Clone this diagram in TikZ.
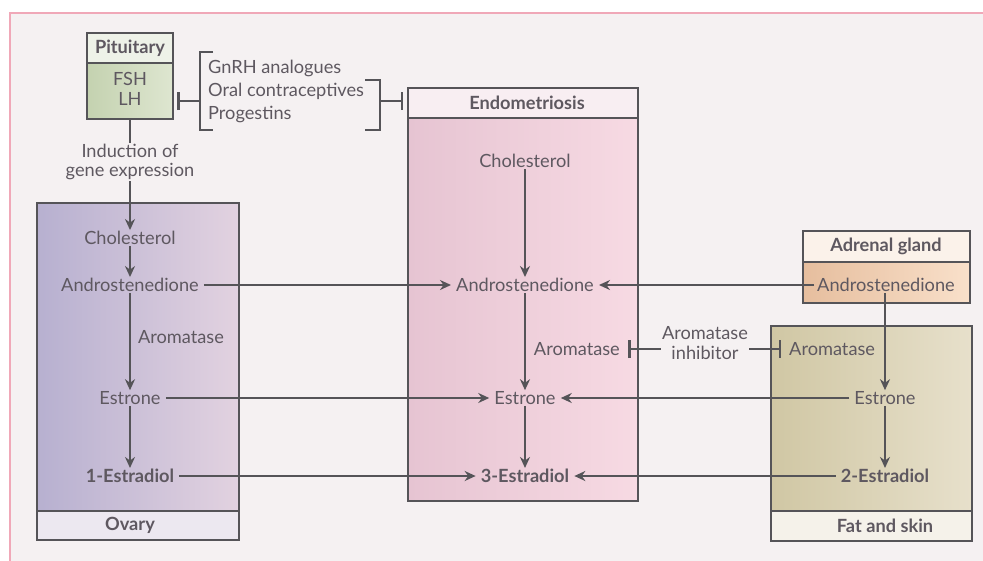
\documentclass[tikz,border=0pt]{standalone}
\usepackage{fontspec}
\setmainfont{Lato}
\usetikzlibrary{arrows.meta}
\definecolor{txt}{HTML}{5E5860}
\definecolor{ln}{HTML}{555458}
\definecolor{bg}{HTML}{F5F1F2}
\definecolor{frame}{HTML}{F0A8B8}
\definecolor{pitT}{HTML}{EEF2E8}
\definecolor{pitL}{HTML}{C4D2B0}
\definecolor{pitR}{HTML}{DEE6D0}
\definecolor{endT}{HTML}{F8EEF2}
\definecolor{endL}{HTML}{E6C4D2}
\definecolor{endR}{HTML}{F7DAE3}
\definecolor{ovL}{HTML}{B7B0D0}
\definecolor{ovR}{HTML}{E2D2E0}
\definecolor{ovT}{HTML}{ECE8F0}
\definecolor{adT}{HTML}{FBF2EA}
\definecolor{adL}{HTML}{E6BE9E}
\definecolor{adR}{HTML}{F9E0CA}
\definecolor{faL}{HTML}{D0C7A4}
\definecolor{faR}{HTML}{E7E0CB}
\definecolor{faT}{HTML}{F5F2EA}
\tikzset{
  lab/.style={text=txt, font=\fontsize{18.2}{20}\selectfont, inner sep=1pt},
  blab/.style={lab, font=\fontsize{18.2}{20}\selectfont\bfseries},
  ttl/.style={text=txt, font=\fontsize{18.2}{20}\selectfont\bfseries},
  box/.style={draw=ln, line width=2.2pt},
  conn/.style={draw=ln, line width=2.5pt},
  arr/.style={conn, -{Stealth[length=11pt,width=10pt]}},
  inh/.style={conn, -{Bar[width=18pt]}}
}
\begin{document}
\begin{tikzpicture}[x=1pt,y=-1pt]
\useasboundingbox (0,0) rectangle (983,560);
\fill[white] (0,0) rectangle (983,560);
\fill[bg] (10,13) rectangle (990,570);
\draw[frame, line width=1.5pt] (990,13) -- (10,13) -- (10,570);

% Pituitary
\draw[box, fill=pitT] (87,33) rectangle (173,63);
\shade[left color=pitL, right color=pitR] (87,63) rectangle (173,119);
\draw[box] (87,33) rectangle (173,119);
\draw[box] (87,63) -- (173,63);
\node[ttl] (pit) at (130,48) {Pituitary};
\node[lab, align=center, font=\fontsize{18.2}{20}\selectfont] (fsh) at (130,89) {FSH\\LH};
\coordinate (pitbot) at (130,119);
\coordinate (pitr) at (173,101);

% Endometriosis
\draw[box, fill=endT] (408,88) rectangle (638,118);
\shade[left color=endL, right color=endR] (408,118) rectangle (638,501);
\draw[box] (408,88) rectangle (638,501);
\draw[box] (408,118) -- (638,118);
\node[ttl] (endo) at (527,103) {Endometriosis};

% Ovary
\shade[left color=ovL, right color=ovR] (37,203) rectangle (239,511);
\fill[ovT] (37,511) rectangle (239,540);
\draw[box] (37,203) rectangle (239,540);
\draw[box] (37,511) -- (239,511);
\node[ttl] (ovary) at (130,525) {Ovary};

% Adrenal
\draw[box, fill=adT] (803,231) rectangle (970,262);
\shade[left color=adL, right color=adR] (803,262) rectangle (970,303);
\draw[box] (803,231) rectangle (970,303);
\draw[box] (803,262) -- (970,262);
\node[ttl] (adr) at (886,246) {Adrenal gland};

% Fat and skin
\shade[left color=faL, right color=faR] (771,326) rectangle (972,511);
\fill[faT] (771,511) rectangle (972,541);
\draw[box] (771,326) rectangle (972,541);
\draw[box] (771,511) -- (972,511);
\node[ttl] (fat) at (885,526) {Fat and skin};

% Bracketed drugs
\node[lab, align=left, anchor=west, font=\fontsize{18.2}{23}\selectfont] (drugs) at (207,91) {GnRH analogues\\Oral contraceptives\\Progestins};
\draw[conn] (213,52) -- (200,52) -- (200,130) -- (213,130);
\draw[conn] (365,80) -- (380,80) -- (380,130) -- (365,130);
\coordinate (brL) at (200,101);
\coordinate (brR) at (380,101);
\coordinate (endoL) at (408,101);
\draw[inh] (brL) -- ([xshift=4pt]pitr);
\draw[inh] (brR) -- ([xshift=-5pt]endoL);

% Induction
\node[lab, align=center, font=\fontsize{18.2}{19.5}\selectfont] (ind) at (130,162) {Induction of\\gene expression};
\draw[conn] (pitbot) -- (ind.north);

% Ovary pathway
\node[lab] (oc) at (130,238) {Cholesterol};
\node[lab] (oa) at (130,285) {Androstenedione};
\node[lab] (oarom) at (181,337) {Aromatase};
\node[lab] (oe) at (130,398) {Estrone};
\node[blab] (oed) at (130,476) {1-Estradiol};
\draw[arr] (ind.south) -- (oc.north);
\draw[arr] (oc) -- (oa);
\draw[arr] (oa) -- (oe);
\draw[arr] (oe) -- (oed);

% Endometriosis pathway
\node[lab] (ec) at (525,161) {Cholesterol};
\node[lab] (ea) at (525,285) {Androstenedione};
\node[lab, anchor=east] (earom) at (621,349) {Aromatase};
\node[lab] (ee) at (525,398) {Estrone};
\node[blab] (eed) at (525,476) {3-Estradiol};
\draw[arr] (ec) -- (ea);
\draw[arr] (ea) -- (ee);
\draw[arr] (ee) -- (eed);

% Adrenal / fat pathway
\node[lab] (aa) at (886,285) {Androstenedione};
\node[lab, anchor=west] (farom) at (788,349) {Aromatase};
\node[lab] (fe) at (885,398) {Estrone};
\node[blab] (fed) at (885,476) {2-Estradiol};
\draw[arr] (aa.south -| fe) -- (fe.north);
\draw[arr] (fe) -- (fed);

% Aromatase inhibitor
\node[lab, align=center, font=\fontsize{18.2}{20}\selectfont] (ai) at (705,343) {Aromatase\\inhibitor};
\draw[inh] (ai.west |- earom) -- ([xshift=7pt]earom.east);
\draw[inh] (ai.east |- farom) -- ([xshift=-7pt]farom.west);

% Horizontal connectors
\draw[arr, shorten <=4pt, shorten >=4pt] (oa) -- (ea);
\draw[arr, shorten <=2pt, shorten >=4pt] (aa) -- (ea);
\draw[arr, shorten <=4pt, shorten >=4pt] (oe) -- (ee);
\draw[arr, shorten <=4pt, shorten >=4pt] (fe) -- (ee);
\draw[arr, shorten <=4pt, shorten >=4pt] (oed) -- (eed);
\draw[arr, shorten <=4pt, shorten >=4pt] (fed) -- (eed);
\end{tikzpicture}
\end{document}
